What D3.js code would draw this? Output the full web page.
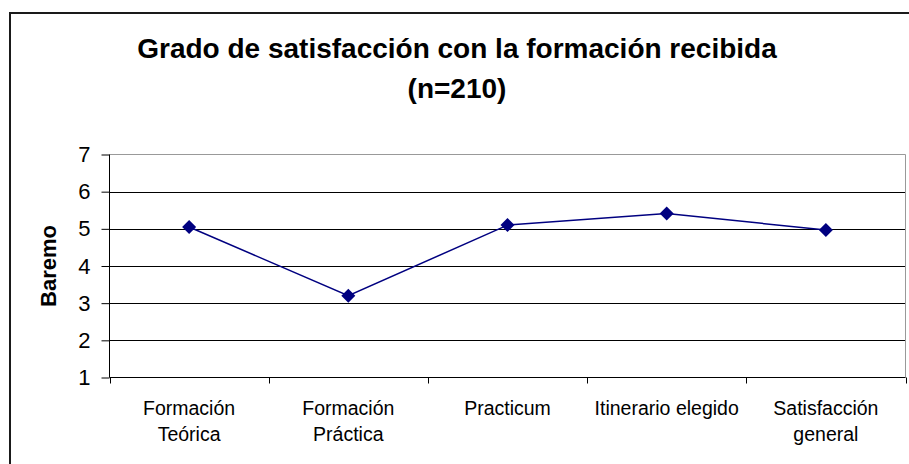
<!DOCTYPE html>
<html><head><meta charset="utf-8">
<script src="https://cdn.jsdelivr.net/npm/d3@7"></script>
<style>body{margin:0;background:#fff}svg{display:block}</style>
</head><body>
<script>
const titleLines = ["Grado de satisfacción con la formación recibida", "(n=210)"];
const yAxisTitle = "Baremo";
const categories = [["Formación","Teórica"],["Formación","Práctica"],["Practicum"],["Itinerario elegido"],["Satisfacción","general"]];
const values = [5.05, 3.2, 5.1, 5.41, 4.97];
const yTicks = [1,2,3,4,5,6,7];

(function(){
const W = 909, H = 464;
const svg = d3.select("body").append("svg").attr("width", W).attr("height", H);
svg.append("rect").attr("x",10).attr("y",13).attr("width",920).attr("height",480)
  .attr("fill","#fff").attr("stroke","#1a1a1a").attr("stroke-width",2);

const pL = 109.5, pR = 905.5, pT = 154.5, pB = 377.5;
const x = d3.scaleBand().domain(d3.range(categories.length)).range([pL,pR]);
const y = d3.scaleLinear().domain([1,7]).range([pB, pT]);

const font = "'Liberation Sans', Arial, sans-serif";

// gridlines
svg.append("g").selectAll("line").data(yTicks.filter(d=>d>1 && d<7)).join("line")
  .attr("x1",pL).attr("x2",pR).attr("y1",d=>Math.round(y(d))+0.5).attr("y2",d=>Math.round(y(d))+0.5)
  .attr("stroke","#000").attr("stroke-width",1);
// plot border top/right
svg.append("line").attr("x1",pL).attr("x2",pR).attr("y1",pT).attr("y2",pT).attr("stroke","#999");
svg.append("line").attr("x1",pR).attr("x2",pR).attr("y1",pT).attr("y2",pB).attr("stroke","#999");

// y axis
const ya = svg.append("g").attr("transform",`translate(${pL},0)`)
  .call(d3.axisLeft(y).tickValues(yTicks).tickSize(8).tickPadding(11).tickFormat(d3.format("d")));
ya.select(".domain").attr("stroke","#000").attr("d",`M0,${pT}V${pB}`);
ya.selectAll(".tick line").attr("stroke","#000");
ya.selectAll(".tick text").attr("font-family",font).attr("font-size",22).attr("fill","#000");

// x axis
svg.append("line").attr("x1",pL).attr("x2",pR).attr("y1",pB).attr("y2",pB).attr("stroke","#000");
const bounds = d3.range(categories.length+1).map(i => i<categories.length ? x(i) : x(i-1)+x.bandwidth());
svg.append("g").selectAll("line").data(bounds).join("line")
  .attr("x1",d=>Math.round(d)+0.5).attr("x2",d=>Math.round(d)+0.5).attr("y1",pB).attr("y2",pB+6).attr("stroke","#000");
const xl = svg.append("g").selectAll("text").data(categories).join("text")
  .attr("x",(d,i)=>x(i)+x.bandwidth()/2).attr("y",415)
  .attr("text-anchor","middle").attr("font-family",font).attr("font-size",19.5).attr("fill","#000");
xl.selectAll("tspan").data(d=>d).join("tspan")
  .attr("x",function(){return this.parentNode.getAttribute("x");})
  .attr("dy",(d,i)=>i===0?0:26).text(d=>d);

// y axis title
svg.append("text").attr("transform",`translate(56,${(pT+pB)/2}) rotate(-90)`)
  .attr("text-anchor","middle").attr("font-family",font).attr("font-weight","bold").attr("font-size",22).text(yAxisTitle);

// title
svg.append("g").selectAll("text").data(titleLines).join("text")
  .attr("x",457).attr("y",(d,i)=>58+i*40).attr("text-anchor","middle")
  .attr("font-family",font).attr("font-weight","bold").attr("font-size",28).text(d=>d);

// line
const cx = i => x(i)+x.bandwidth()/2;
svg.append("path").datum(values)
  .attr("d", d3.line().x((d,i)=>cx(i)).y(d=>y(d)))
  .attr("fill","none").attr("stroke","#000080").attr("stroke-width",1.5);
svg.append("g").selectAll("path").data(values).join("path")
  .attr("transform",(d,i)=>`translate(${cx(i)},${y(d)})`)
  .attr("d","M0,-7L7,0L0,7L-7,0Z").attr("fill","#000080");
})();
</script>
</body></html>
